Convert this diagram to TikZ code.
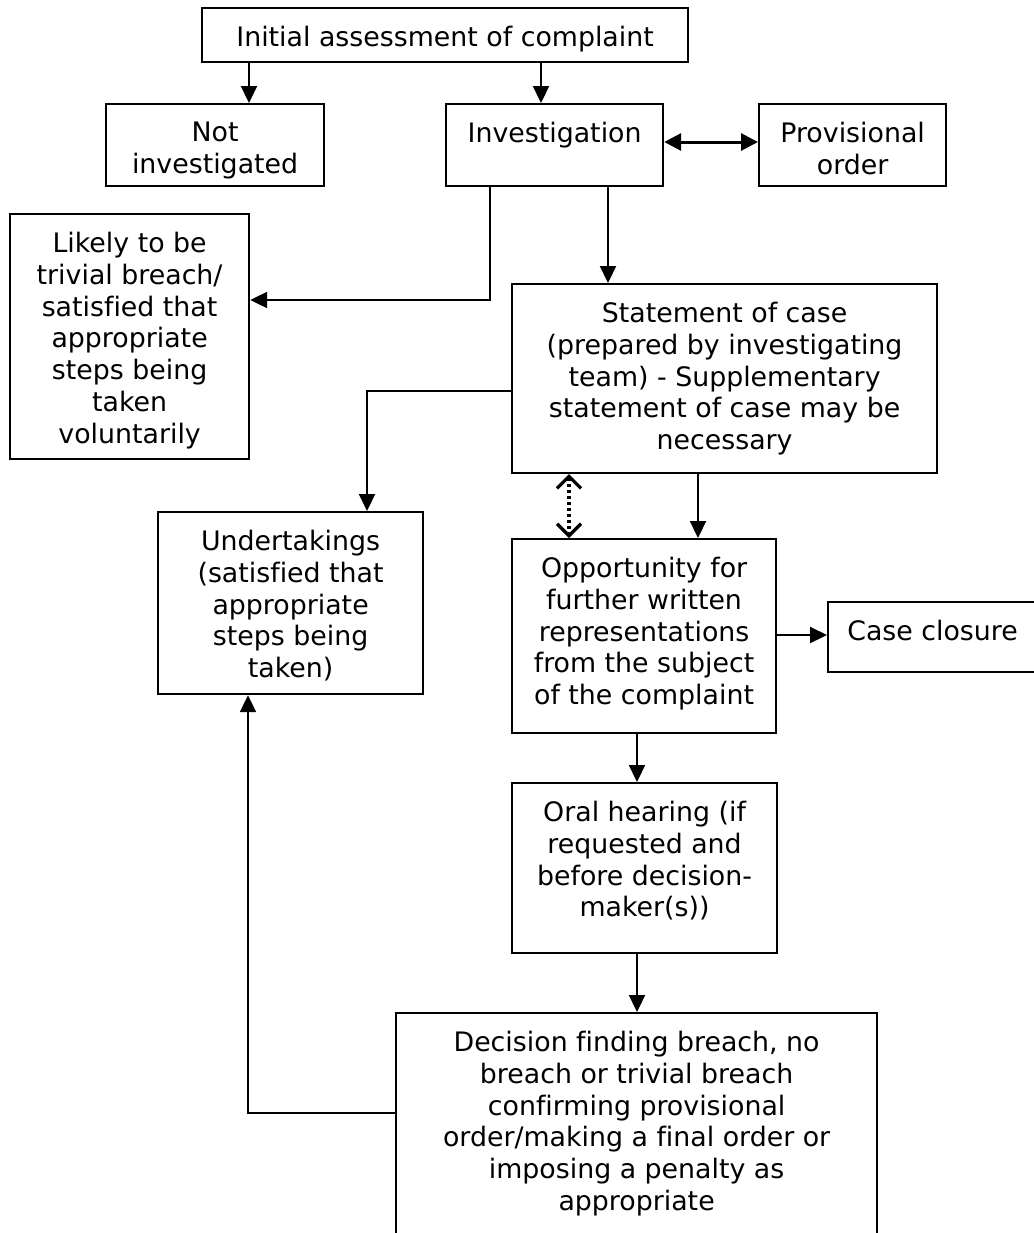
\documentclass[tikz,border=0pt]{standalone}
\usepackage{fontspec}
\setmainfont{DejaVu Sans}[Ligatures=NoCommon]
\usepackage{tikz}
\usetikzlibrary{arrows.meta}
\newdimen\pxu
\pxu=0.5pt

\begin{document}
\begin{tikzpicture}[
    x=0.5pt, y=-0.5pt,
    font=\fontsize{13.4}{15.9}\selectfont,
    box/.style 2 args={draw, line width=1.1pt, inner sep=0pt, anchor=north west,
      execute at begin node={\begin{minipage}[t][#2\pxu][t]{#1\pxu}\centering\vspace*{9pt}},
      execute at end node={\end{minipage}}},
    arr/.style={-{Triangle[length=8.5pt, width=8pt]}, line width=1.1pt},
    both/.style={{Triangle[length=8.5pt, width=8.5pt]}-{Triangle[length=8.5pt, width=8.5pt]}, line width=1.5pt},
    dots/.style={{Straight Barb[length=6pt, width=12pt]}-{Straight Barb[length=6pt, width=12pt]}, line width=1.6pt, dash pattern=on 1.5pt off 1.5pt}
  ]
    \useasboundingbox (0,0) rectangle (1034,1233);
    \clip (0,0) rectangle (1034,1233);

    \node[box={486}{54}] (init) at (201,7) {Initial assessment of complaint};
    \node[box={218}{82}] (notinv) at (105,103) {Not\\investigated};
    \node[box={217}{82}] (inv) at (445,103) {Investigation};
    \node[box={187}{82}] (prov) at (758,103) {Provisional\\order};
    \node[box={239}{245}] (likely) at (9,213) {Likely to be\\trivial breach/\\satisfied that\\appropriate\\steps being\\taken\\voluntarily};
    \node[box={425}{189}] (stmt) at (511,283) {Statement of case\\(prepared by investigating\\team) - Supplementary\\statement of case may be\\necessary};
    \node[box={265}{182}] (undert) at (157,511) {Undertakings\\(satisfied that\\appropriate\\steps being\\taken)};
    \node[box={264}{194}] (opp) at (511,538) {Opportunity for\\further written\\representations\\from the subject\\of the complaint};
    \node[box={209}{70}] (close) at (827,601) {Case closure};
    \node[box={265}{170}] (oral) at (511,782) {Oral hearing (if\\requested and\\before decision-\\maker(s))};
    \node[box={481}{240}] (dec) at (395,1012) {Decision finding breach, no\\breach or trivial breach\\confirming provisional\\order/making a final order or\\imposing a penalty as\\appropriate};

    \draw[arr] (249,0 |- init.south) -- (249,0 |- notinv.north);
    \draw[arr] (541,0 |- init.south) -- (541,0 |- inv.north);
    \draw[both] (inv.east |- 0,142) -- (prov.west |- 0,142);
    \draw[arr] (490,0 |- inv.south) |- (likely.east |- 0,300);
    \draw[arr] (608,0 |- inv.south) -- (608,0 |- stmt.north);
    \draw[arr] (stmt.west |- 0,391) -| (367,0 |- undert.north);
    \draw[dots] (569,0 |- stmt.south) -- (569,0 |- opp.north);
    \draw[arr] (698,0 |- stmt.south) -- (698,0 |- opp.north);
    \draw[arr] (opp.east |- 0,635) -- (close.west |- 0,635);
    \draw[arr] (637,0 |- opp.south) -- (637,0 |- oral.north);
    \draw[arr] (637,0 |- oral.south) -- (637,0 |- dec.north);
    \draw[arr] (dec.west |- 0,1113) -| (248,0 |- undert.south);
  \end{tikzpicture}
\end{document}
